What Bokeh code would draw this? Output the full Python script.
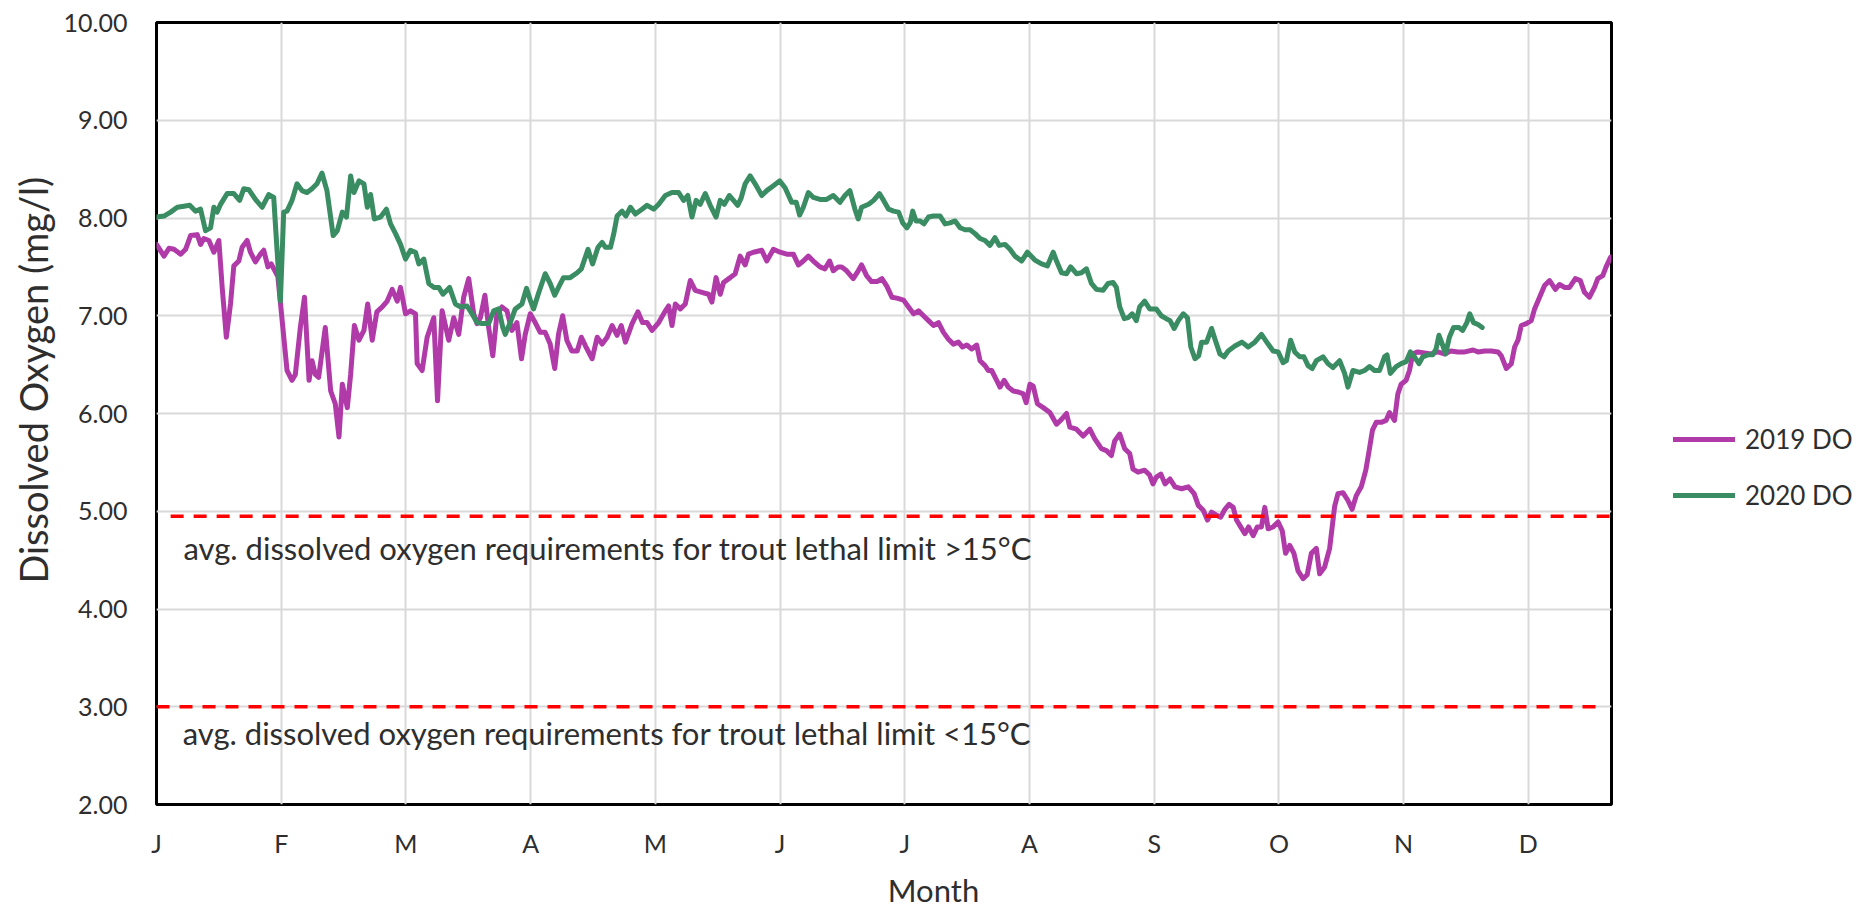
import math
from bokeh.plotting import figure
from bokeh.layouts import row, column
from bokeh.models import FixedTicker, PrintfTickFormatter, Legend, LegendItem, Label, Range1d
from bokeh.embed import file_html
from bokeh.resources import INLINE

# ---- data (day of year, dissolved oxygen mg/l) ----
days_2019 = [0, 1.8, 3, 4.2, 5.8, 7, 8.2, 9.8, 10.6, 11.4, 12.6, 13.8, 15, 15.8, 16.8, 17.8, 18.6, 19.8,
             20.6, 21.8, 22.6, 23.8, 25, 25.8, 26.8, 27.6, 29.2, 31.4, 32.6, 33.4, 34.6, 35.6, 36.7, 37.4,
             38.2, 39, 40.6, 41.9, 43, 43.9, 44.7, 45.9, 46.7, 47.6, 48.7, 49.9, 50.8, 51.9, 53, 54.3, 55.5,
             56.7, 57.9, 58.7, 59.9, 61.1, 62.3, 62.7, 63.9, 65.1, 66.7, 67.6, 68.7, 70.3, 71.5, 72.7, 73.9,
             75.1, 76.3, 77.1, 77.9, 79, 79.9, 80.9, 81.9, 83.1, 84.3, 85.5, 86.7, 87.8, 88.7, 89.9, 91.1,
             92.3, 93.5, 94.7, 95.8, 96.7, 97.7, 98.7, 99.9, 101.2, 102.2, 103.2, 104.8, 106, 107.2, 108.4,
             109.6, 110.8, 111.8, 112.8, 114.4, 115.8, 116.9, 118, 119.2, 120.8, 122.4, 123.2, 124, 124.8,
             126, 127.2, 128.4, 129.6, 131.2, 132.8, 133.6, 134.6, 135.6, 136.4, 138, 139.2, 140.4, 141.6,
             142.4, 143.6, 145.6, 146.8, 148.4, 150, 151.6, 153.2, 154.4, 155.6, 156.8, 158, 159.6, 160.8,
             161.9, 162.8, 164, 164.8, 166, 167.6, 168.8, 169.6, 170.8, 172, 173.3, 174.5, 175.7, 176.9,
             178.1, 179.7, 180.9, 182.1, 183.3, 184.5, 185.7, 186.9, 188.1, 189.3, 190.5, 191.7, 192.9,
             193.9, 194.9, 196.1, 197.3, 198.1, 199.3, 200.1, 200.9, 202.1, 202.9, 203.9, 204.9, 206.1,
             207.3, 208.5, 209.2, 210.1, 210.9, 211.9, 213.3, 214.9, 216.5, 217.7, 218.9, 219.7, 221.3,
             222.9, 224.5, 225.7, 227.3, 228.5, 229.7, 230.5, 231.7, 232.9, 234.1, 234.9, 236.1, 237.7,
             238.9, 239.7, 240.5, 241.6, 242.6, 243.8, 245, 246.6, 248.2, 249.6, 250.6, 251.8, 252.8,
             253.8, 255, 256, 257, 258, 259, 259.8, 260.8, 261.8, 262.7, 263.8, 264.8, 265.8, 266.6,
             267.4, 268.6, 269.8, 270.8, 271.6, 272.6, 273.6, 274.6, 275.8, 276.8, 277.8, 279, 279.8,
             281, 282.2, 283.4, 284.2, 285.4, 286.6, 287.6, 288.6, 289.8, 290.9, 291.7, 292.5, 293.4,
             294.6, 295.8, 296.6, 297.8, 298.6, 299.4, 300.6, 301.4, 302.2, 303.4, 305, 306.6, 308.2,
             309.8, 311.4, 313, 314.7, 316.7, 317.9, 319.5, 321.1, 322.7, 323.5, 324.7, 325.9, 326.7,
             327.5, 328.3, 329.5, 330.7, 331.5, 332.7, 333.9, 335.1, 336.5, 337.5, 338.7, 339.9, 341.3,
             342.5, 343.5, 344.7, 345.9, 346.7, 347.9, 348.7, 349.8]
do_2019 = [7.73, 7.61, 7.69, 7.68, 7.63, 7.68, 7.82, 7.83, 7.73, 7.79, 7.77, 7.65, 7.77, 7.29, 6.78, 7.12,
           7.51, 7.56, 7.70, 7.77, 7.65, 7.55, 7.63, 7.67, 7.50, 7.53, 7.40, 6.44, 6.34, 6.40, 6.88, 7.19,
           6.34, 6.54, 6.40, 6.37, 6.88, 6.23, 6.10, 5.76, 6.30, 6.06, 6.40, 6.90, 6.75, 6.85, 7.12, 6.75,
           7.04, 7.09, 7.15, 7.27, 7.15, 7.29, 7.02, 7.05, 7.02, 6.51, 6.44, 6.78, 6.98, 6.13, 7.05, 6.75,
           6.98, 6.81, 7.19, 7.38, 7.02, 6.92, 6.98, 7.21, 6.88, 6.59, 7.02, 7.09, 7.05, 6.85, 6.93, 6.56,
           6.81, 7.02, 6.93, 6.83, 6.83, 6.71, 6.46, 6.81, 7.00, 6.75, 6.64, 6.64, 6.78, 6.69, 6.56, 6.78,
           6.71, 6.78, 6.90, 6.80, 6.90, 6.73, 6.92, 7.04, 6.93, 6.93, 6.85, 6.93, 7.05, 7.10, 6.90, 7.12,
           7.07, 7.12, 7.36, 7.26, 7.24, 7.22, 7.14, 7.39, 7.22, 7.34, 7.39, 7.43, 7.61, 7.52, 7.63, 7.65,
           7.67, 7.56, 7.68, 7.65, 7.63, 7.63, 7.52, 7.56, 7.61, 7.56, 7.50, 7.48, 7.56, 7.46, 7.50, 7.50,
           7.46, 7.38, 7.46, 7.52, 7.41, 7.35, 7.35, 7.38, 7.30, 7.19, 7.18, 7.16, 7.09, 7.02, 7.05, 7.00,
           6.95, 6.90, 6.93, 6.83, 6.76, 6.71, 6.73, 6.68, 6.70, 6.66, 6.70, 6.54, 6.49, 6.44, 6.44, 6.34,
           6.27, 6.34, 6.27, 6.23, 6.22, 6.20, 6.11, 6.30, 6.28, 6.10, 6.06, 6.01, 5.89, 5.94, 6.00, 5.86,
           5.84, 5.77, 5.84, 5.74, 5.64, 5.62, 5.57, 5.72, 5.79, 5.64, 5.59, 5.43, 5.40, 5.42, 5.37, 5.28,
           5.35, 5.38, 5.28, 5.33, 5.25, 5.23, 5.25, 5.18, 5.06, 5.01, 4.91, 4.99, 4.96, 4.94, 5.02, 5.07,
           5.04, 4.91, 4.84, 4.77, 4.84, 4.75, 4.84, 4.84, 5.04, 4.82, 4.84, 4.89, 4.80, 4.57, 4.65, 4.57,
           4.39, 4.31, 4.35, 4.57, 4.62, 4.36, 4.43, 4.62, 5.05, 5.18, 5.19, 5.11, 5.02, 5.16, 5.25, 5.42,
           5.62, 5.83, 5.91, 5.91, 5.93, 6.01, 5.93, 6.20, 6.30, 6.34, 6.44, 6.61, 6.63, 6.62, 6.61, 6.63,
           6.61, 6.64, 6.63, 6.63, 6.65, 6.63, 6.64, 6.64, 6.63, 6.59, 6.46, 6.51, 6.68, 6.75, 6.90, 6.92,
           6.95, 7.07, 7.19, 7.31, 7.36, 7.27, 7.32, 7.29, 7.29, 7.38, 7.36, 7.24, 7.19, 7.29, 7.38, 7.41,
           7.50, 7.60]

days_2020 = [0, 1.8, 3.4, 5, 6.6, 8, 9.4, 10.6, 11.8, 13, 13.8, 14.6, 15.4, 17, 18.6, 20, 21, 22.2, 23.8,
             25.4, 27, 28.2, 29, 29.8, 30.6, 31.4, 32.6, 33.8, 35, 36.2, 37.4, 38.6, 39.8, 41, 42.5, 43.5,
             44.7, 45.7, 46.7, 47.5, 48.7, 49.9, 50.7, 51.5, 52.4, 53.9, 55.3, 56.3, 57.5, 58.7, 59.9, 61.1,
             62.3, 63.1, 64.3, 65.5, 66.7, 67.9, 68.9, 70.5, 71.9, 73.1, 74.7, 75.9, 77.1, 78.3, 79.9, 81.1,
             82.3, 83.3, 83.9, 85.1, 86.3, 87.9, 89, 89.9, 90.7, 91.9, 93.5, 94.7, 95.8, 96.7, 97.9, 99.5,
             101.2, 102.2, 103.8, 104.9, 106.2, 107.2, 108, 109.2, 110, 110.8, 112, 112.9, 114, 115.2,
             116.8, 118, 119.6, 120.8, 122.4, 124, 125.6, 126.8, 127.8, 128.8, 129.8, 130.8, 132, 133.2,
             134.6, 135.6, 136.6, 137.8, 138.8, 139.8, 140.6, 141.6, 142.8, 144, 145.6, 146.8, 148.4,
             149.9, 151.2, 152.8, 153.9, 154.7, 155.6, 156.8, 158, 159.6, 161.2, 162.8, 164.4, 165.6,
             166.8, 168, 168.8, 169.6, 171.3, 172.5, 173.9, 174.9, 176.1, 177.3, 178.5, 179.5, 180.5,
             181.3, 181.9, 182.7, 183.7, 184.6, 185.7, 186.9, 188.5, 189.7, 190.9, 192.1, 193.3, 194.5,
             195.7, 196.9, 198.1, 199.3, 200.5, 201.7, 202.7, 204.1, 205.3, 206.5, 208.1, 209.5, 211.3,
             212.9, 214.3, 215.7, 216.5, 217.7, 218.9, 219.9, 221.3, 222.5, 223.7, 224.9, 226.1, 227.7,
             228.9, 230.1, 230.9, 231.7, 232.8, 233.7, 234.7, 235.7, 236.5, 237.7, 238.9, 240.5, 241.7,
             242.9, 243.8, 244.8, 245.8, 247, 248, 248.8, 249.8, 250.7, 251.4, 252.6, 253.8, 254.7,
             255.8, 256.8, 257.8, 259.4, 261.1, 262.6, 264.2, 265.8, 267.4, 268.6, 269.8, 271, 271.8,
             272.8, 273.8, 275, 276, 277, 278, 279, 280.6, 281.8, 283, 284.6, 285.8, 286.6, 287.8, 289.4,
             290.6, 291.8, 293, 294.2, 295.4, 296, 296.8, 298.2, 299.4, 300.6, 301.6, 302.6, 303.7,
             304.6, 305.8, 307, 307.8, 308.5, 309.3, 310.1, 311, 312, 313.3, 314.2, 315.2, 315.9, 316.8,
             317.9, 318.9]
do_2020 = [8.01, 8.02, 8.06, 8.11, 8.12, 8.13, 8.07, 8.09, 7.87, 7.90, 8.11, 8.06, 8.14, 8.25, 8.25, 8.18,
           8.30, 8.29, 8.19, 8.11, 8.24, 8.21, 7.67, 7.15, 8.06, 8.07, 8.18, 8.35, 8.28, 8.26, 8.30, 8.35,
           8.46, 8.28, 7.82, 7.87, 8.06, 8.01, 8.43, 8.26, 8.38, 8.35, 8.11, 8.24, 7.99, 8.01, 8.09, 7.94,
           7.84, 7.73, 7.58, 7.67, 7.65, 7.53, 7.58, 7.33, 7.29, 7.29, 7.22, 7.29, 7.12, 7.09, 7.10, 7.02,
           6.93, 6.92, 6.92, 7.05, 7.07, 6.88, 6.81, 6.93, 7.07, 7.12, 7.28, 7.16, 7.07, 7.23, 7.43, 7.33,
           7.21, 7.29, 7.39, 7.39, 7.44, 7.48, 7.68, 7.53, 7.70, 7.75, 7.70, 7.70, 7.84, 8.02, 8.07, 8.02,
           8.11, 8.04, 8.09, 8.13, 8.09, 8.14, 8.23, 8.26, 8.26, 8.18, 8.23, 8.01, 8.18, 8.14, 8.25, 8.13,
           8.01, 8.18, 8.14, 8.23, 8.18, 8.13, 8.20, 8.35, 8.43, 8.35, 8.23, 8.28, 8.33, 8.38, 8.31, 8.16,
           8.16, 8.03, 8.11, 8.26, 8.21, 8.19, 8.19, 8.23, 8.16, 8.23, 8.28, 8.09, 7.99, 8.11, 8.14, 8.18,
           8.25, 8.18, 8.09, 8.07, 8.06, 7.95, 7.90, 7.95, 8.07, 7.97, 7.97, 7.94, 8.01, 8.02, 8.02, 7.94,
           7.95, 7.97, 7.90, 7.88, 7.88, 7.84, 7.79, 7.77, 7.72, 7.80, 7.72, 7.73, 7.68, 7.61, 7.56, 7.65,
           7.57, 7.53, 7.51, 7.65, 7.56, 7.44, 7.43, 7.50, 7.43, 7.44, 7.48, 7.33, 7.27, 7.26, 7.33, 7.34,
           7.29, 7.09, 6.97, 6.98, 7.02, 6.95, 7.09, 7.15, 7.07, 7.07, 7.00, 6.97, 6.95, 6.87, 6.95, 7.02,
           6.98, 6.68, 6.56, 6.59, 6.73, 6.73, 6.87, 6.75, 6.61, 6.58, 6.64, 6.69, 6.73, 6.68, 6.73, 6.81,
           6.71, 6.64, 6.63, 6.52, 6.54, 6.75, 6.63, 6.58, 6.58, 6.49, 6.46, 6.54, 6.58, 6.51, 6.47, 6.54,
           6.41, 6.27, 6.44, 6.42, 6.44, 6.48, 6.44, 6.44, 6.58, 6.60, 6.41, 6.48, 6.51, 6.53, 6.63, 6.58,
           6.51, 6.58, 6.60, 6.60, 6.66, 6.80, 6.71, 6.61, 6.78, 6.88, 6.88, 6.85, 6.93, 7.02, 6.93, 6.91,
           6.88]

month_ticks = [0, 30, 60, 90, 120, 150, 180, 210, 240, 270, 300, 330]
month_labels = ["J", "F", "M", "A", "M", "J", "J", "A", "S", "O", "N", "D"]
y_ticks = [2, 3, 4, 5, 6, 7, 8, 9, 10]
limit_warm = 4.95
limit_cold = 3.0
label_warm = "avg. dissolved oxygen requirements for trout lethal limit >15\u00b0C"
label_cold = "avg. dissolved oxygen requirements for trout lethal limit <15\u00b0C"
series_names = ["2019 DO", "2020 DO"]
x_title = "Month"
y_title = "Dissolved Oxygen (mg/l)"

FONT = "Lato"
TXT = "#2E2E2E"
C19 = "#B03AA8"
C20 = "#3A8C63"
LW = 5

TOTAL_W, TOTAL_H = 1865, 910
ROW_H = 868
YLAB_W = 58
MAIN_W = 1563
LEG_W = TOTAL_W - YLAB_W - MAIN_W
MONTH_H = TOTAL_H - ROW_H


def blank(w, h, x0=0, y0=0):
    f = figure(width=w, height=h, x_range=Range1d(x0, x0 + w), y_range=Range1d(y0, y0 + h),
               output_backend="svg", toolbar_location=None, min_border=0,
               x_axis_type=None, y_axis_type=None)
    f.outline_line_color = None
    f.background_fill_color = "white"
    f.border_fill_color = "white"
    f.grid.visible = False
    return f


# ---- main chart ----
p = figure(width=MAIN_W, height=ROW_H, x_range=Range1d(0, 350), y_range=Range1d(2, 10),
           output_backend="svg", toolbar_location=None,
           min_border_left=98, min_border_right=10, min_border_top=22, min_border_bottom=ROW_H - 804)
p.background_fill_color = "white"
p.border_fill_color = "white"
p.outline_line_color = "black"
p.outline_line_width = 3

p.xaxis.ticker = FixedTicker(ticks=month_ticks)
p.xaxis.major_label_overrides = {t: l for t, l in zip(month_ticks, month_labels)}
p.yaxis.ticker = FixedTicker(ticks=y_ticks)
p.yaxis.formatter = PrintfTickFormatter(format="%.2f")
for ax in (p.xaxis, p.yaxis):
    ax.axis_line_color = None
    ax.major_tick_line_color = None
    ax.minor_tick_line_color = None
    ax.major_tick_out = 0
    ax.minor_tick_out = 0
    ax.major_label_text_font = FONT
    ax.major_label_text_font_size = "25px"
    ax.major_label_text_color = TXT
p.xaxis.major_label_standoff = 23
p.yaxis.major_label_standoff = 29

p.xgrid.grid_line_color = "#D9D9D9"
p.ygrid.grid_line_color = "#D9D9D9"
p.xgrid.grid_line_width = 2
p.ygrid.grid_line_width = 2

p.line(days_2019, do_2019, line_color=C19, line_width=LW, line_join="round", line_cap="round")
p.line(days_2020, do_2020, line_color=C20, line_width=LW, line_join="round", line_cap="round")

p.line([3.4, 350], [limit_warm, limit_warm], line_color="#FF0000", line_width=3.5, line_dash="13 10")
p.line([0, 348], [limit_cold, limit_cold], line_color="#FF0000", line_width=3.5, line_dash="13 10")

p.add_layout(Label(x=6.5, y=4.62, text=label_warm, text_font=FONT, text_font_size="31px",
                   text_color=TXT, text_baseline="middle"))
p.add_layout(Label(x=6.3, y=2.73, text=label_cold, text_font=FONT, text_font_size="31px",
                   text_color=TXT, text_baseline="middle"))

# ---- y axis title ----
ylab = blank(YLAB_W, ROW_H)
ylab.add_layout(Label(x=32, y=ROW_H - 397, text=y_title, angle=math.pi / 2, text_align="center",
                      text_baseline="middle", text_font=FONT, text_font_size="38px", text_color=TXT))

# ---- legend (its range is kept away from the data so only the legend shows) ----
leg = blank(LEG_W, ROW_H, x0=10000, y0=10000)
l19 = leg.line(days_2019, do_2019, line_color=C19, line_width=LW, line_cap="round")
l20 = leg.line(days_2020, do_2020, line_color=C20, line_width=LW, line_cap="round")
legend = Legend(items=[LegendItem(label=series_names[0], renderers=[l19]),
                       LegendItem(label=series_names[1], renderers=[l20])],
                location=(52, 289), orientation="vertical")
legend.label_text_font = FONT
legend.label_text_font_size = "26px"
legend.label_text_color = TXT
legend.glyph_width = 62
legend.glyph_height = 40
legend.label_height = 40
legend.label_standoff = 10
legend.spacing = 16
legend.padding = 0
legend.margin = 0
legend.border_line_color = None
legend.background_fill_alpha = 0
leg.add_layout(legend)

# ---- x axis title ----
mon = blank(TOTAL_W, MONTH_H)
mon.add_layout(Label(x=933, y=MONTH_H - 21, text=x_title, text_align="center", text_baseline="middle",
                     text_font=FONT, text_font_size="31px", text_color=TXT))

layout = column(row(ylab, p, leg), mon)
open("out.html", "w").write(file_html(layout, INLINE))
